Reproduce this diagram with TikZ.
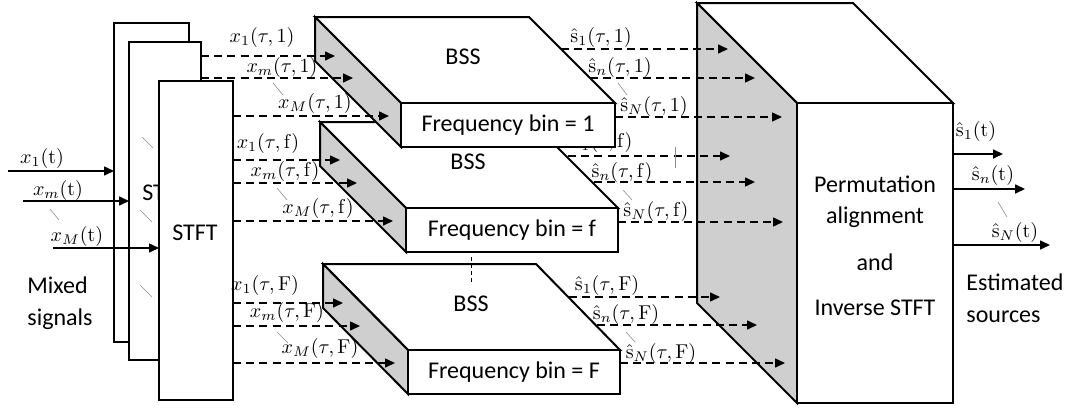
\documentclass[tikz,border=0pt]{standalone}
\usepackage[no-math]{fontspec}
\setmainfont{Carlito}
\usetikzlibrary{arrows.meta}
\begin{document}
\begin{tikzpicture}[x=0.5pt,y=-0.5pt,
  edge/.style={draw=black,line width=1pt,line join=miter},
  sideface/.style={edge,fill=black!19},
  topface/.style={edge,fill=white},
  frontface/.style={edge,fill=white,rectangle,inner sep=0pt,font=\fontsize{12}{14}\selectfont},
  stftbox/.style={draw=black,line width=0.9pt,fill=white,rectangle,inner sep=0pt},
  txt/.style={font=\fontsize{12}{14}\selectfont,inner sep=0pt},
  lbl/.style={font=\fontsize{10}{12}\selectfont,inner sep=0pt},
  darr/.style={dash pattern=on 4pt off 2.6pt,line width=0.75pt,-{Triangle[length=5pt,width=4.5pt]}},
  sarr/.style={line width=0.8pt,-{Triangle[length=5pt,width=4.5pt]}},
  tick/.style={draw=black!45,line width=0.3pt},
  vdash/.style={draw=black,line width=0.4pt,dash pattern=on 2pt off 1.5pt}
]
\useasboundingbox (0,0) rectangle (1069,407);

% ---------- STFT boxes ----------
\node[stftbox,minimum width=37.5pt,minimum height=159.5pt] (stft1) at (151.5,182.5) {};
\node[stftbox,minimum width=36pt,minimum height=159pt] (stft2) at (165,201) {};
\node[txt] (stft2t) at (165,193) {STFT};
\node[stftbox,minimum width=37pt,minimum height=159.5pt] (stft3) at (196,240.5) {};
\node[txt] (stft3t) at (195,233) {STFT};

% ellipsis ticks on STFT boxes
\draw[tick] (142,137) -- (153,148);
\draw[tick] (140,210) -- (152,222);
\draw[tick] (140,285) -- (152,297);

% ---------- inputs ----------
\coordinate (in1) at (8,171);
\coordinate (in2) at (23,201);
\coordinate (in3) at (53,248);
\coordinate (e1) at (114,171);
\coordinate (e2) at (129,201);
\coordinate (e3) at (159,248);
\draw[sarr] (in1) -- (e1);
\draw[sarr] (in2) -- (e2);
\draw[sarr] (in3) -- (e3);
\node[lbl] (lx1) at (42,158) {$x_1(\mathrm{t})$};
\node[lbl] (lxm) at (58,190) {$x_m(\mathrm{t})$};
\node[lbl] (lxM) at (77,236) {$x_M(\mathrm{t})$};
\draw[tick] (50,209) -- (59,220);
\node[txt,align=left,anchor=west] (mixed) at (27,303) {Mixed\\[2pt]signals};

% ---------- BSS block F ----------
\filldraw[topface] (323,264) -- (536,264) -- (620,350) -- (408,350) -- cycle;
\filldraw[sideface] (323,264) -- (408,350) -- (408,394) -- (323,308) -- cycle;
\node[frontface,minimum width=106pt,minimum height=22pt] (binF) at (514,372) {Frequency bin = F};
\node[txt] (bssF) at (471,304) {BSS};

% ---------- BSS block f ----------
\filldraw[topface] (320,122) -- (532,122) -- (618,208) -- (406,208) -- cycle;
\filldraw[sideface] (320,122) -- (406,208) -- (406,252) -- (320,166) -- cycle;
\node[frontface,minimum width=106pt,minimum height=22pt] (binf) at (512,230) {Frequency bin = f};
\node[txt] (bssf) at (468,162) {BSS};
\node[lbl] (ls1f) at (603,142) {$\hat{\mathrm{s}}_1(\tau,\mathrm{f})$};

% ---------- BSS block 1 ----------
\filldraw[topface] (315,17) -- (529,17) -- (615,103) -- (401,103) -- cycle;
\filldraw[sideface] (315,17) -- (401,103) -- (401,147) -- (315,61) -- cycle;
\node[frontface,minimum width=107pt,minimum height=22pt] (bin1) at (508,125) {Frequency bin = 1};
\node[txt] (bss1) at (463,57) {BSS};

\draw[vdash] (471,257) -- (471,283);

% ---------- Permutation block ----------
\filldraw[topface] (697,3) -- (853,3) -- (953,103) -- (797,103) -- cycle;
\filldraw[sideface] (697,3) -- (797,103) -- (797,403) -- (697,303) -- cycle;
\node[frontface,minimum width=78pt,minimum height=150pt] (perm) at (875,253) {};
\node[txt,anchor=base] (p1) at (875,192) {Permutation};
\node[txt,anchor=base] (p2) at (875,223) {alignment};
\node[txt,anchor=base] (p3) at (875,270) {and};
\node[txt,anchor=base] (p4) at (875,315) {Inverse STFT};

% ---------- STFT -> BSS dashed arrows ----------
\foreach \n/\xs/\y/\xe in {a/201/56/335, b/201/78/353, c/233/116/389,
                          d/233/160/340, e/233/183/357, f/233/221/393,
                          g/233/303/343, h/233/326/360, i/233/363/395}{
  \coordinate (s\n) at (\xs,\y);
  \coordinate (t\n) at (\xe,\y);
  \draw[darr] (s\n) -- (t\n);
}
\node[lbl] (lx11) at (262,37) {$x_1(\tau,1)$};
\node[lbl] (lxm1) at (282,67) {$x_m(\tau,1)$};
\node[lbl] (lxM1) at (315,103) {$x_M(\tau,1)$};
\node[lbl] (lx1f) at (268,143) {$x_1(\tau,\mathrm{f})$};
\node[lbl] (lxmf) at (285,171) {$x_m(\tau,\mathrm{f})$};
\node[lbl] (lxMf) at (318,208) {$x_M(\tau,\mathrm{f})$};
\node[lbl] (lx1F) at (265,285) {$x_1(\tau,\mathrm{F})$};
\node[lbl] (lxmF) at (287,312) {$x_m(\tau,\mathrm{F})$};
\node[lbl] (lxMF) at (320,348) {$x_M(\tau,\mathrm{F})$};
\draw[tick] (273,83) -- (283,95);
\draw[tick] (277,188) -- (287,200);
\draw[tick] (277,332) -- (288,343);

% ---------- BSS -> Permutation dashed arrows ----------
\foreach \n/\xs/\y/\xe in {a/561/49/728, b/590/78/755, c/615/117/782,
                          d/568/156/730, e/594/182/755, f/618/222/783,
                          g/569/297/720, h/597/325/757, i/620/363/785}{
  \coordinate (u\n) at (\xs,\y);
  \coordinate (v\n) at (\xe,\y);
  \draw[darr] (u\n) -- (v\n);
}
\node[lbl] (ls11) at (601,37) {$\hat{\mathrm{s}}_1(\tau,1)$};
\node[lbl] (lsn1) at (620,67) {$\hat{\mathrm{s}}_n(\tau,1)$};
\node[lbl] (lsN1) at (654,106) {$\hat{\mathrm{s}}_N(\tau,1)$};
\node[lbl] (lsnf) at (622,172) {$\hat{\mathrm{s}}_n(\tau,\mathrm{f})$};
\node[lbl] (lsNf) at (656,211) {$\hat{\mathrm{s}}_N(\tau,\mathrm{f})$};
\node[lbl] (ls1F) at (607,285) {$\hat{\mathrm{s}}_1(\tau,\mathrm{F})$};
\node[lbl] (lsnF) at (626,314) {$\hat{\mathrm{s}}_n(\tau,\mathrm{F})$};
\node[lbl] (lsNF) at (661,353) {$\hat{\mathrm{s}}_N(\tau,\mathrm{F})$};
\draw[tick] (618,83) -- (627,95);
\draw[tick] (623,190) -- (632,200);
\draw[tick] (626,332) -- (635,342);
\draw[tick] (675,147) -- (675,168);

% ---------- outputs ----------
\coordinate (o1) at (953,154);
\coordinate (o2) at (953,189);
\coordinate (o3) at (953,245);
\coordinate (p1e) at (1003,154);
\coordinate (p2e) at (1025,189);
\coordinate (p3e) at (1050,245);
\draw[sarr] (o1) -- (p1e);
\draw[sarr] (o2) -- (p2e);
\draw[sarr] (o3) -- (p3e);
\node[lbl] (ls1) at (976,131) {$\hat{\mathrm{s}}_1(\mathrm{t})$};
\node[lbl] (lsn) at (993,175) {$\hat{\mathrm{s}}_n(\mathrm{t})$};
\node[lbl] (lsN) at (1015,232) {$\hat{\mathrm{s}}_N(\mathrm{t})$};
\draw[tick] (998,202) -- (1007,217);
\node[txt,align=left,anchor=west] (est) at (966,298) {Estimated\\[2pt]sources};
\end{tikzpicture}
\end{document}
